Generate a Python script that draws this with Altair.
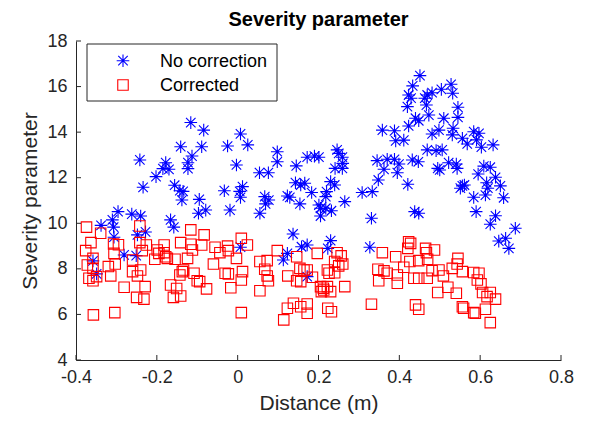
import altair as alt
import pandas as pd

# ---- data ----
nc_x = [-0.116, -0.084, 0.007, 0.025, -0.141, -0.089, -0.025, -0.113, -0.242, -0.178,
        -0.123, -0.185, -0.170, -0.123, -0.003, -0.202, -0.234, -0.156, -0.143, -0.135,
        -0.033, 0.005, 0.012, 0.007, -0.138, -0.095, -0.079, -0.097, -0.019, -0.296,
        -0.262, -0.240, -0.310, -0.166, -0.338, -0.307, -0.158, -0.306, -0.248, -0.228,
        -0.281, -0.251, -0.358, 0.007, -0.349,
        0.358, 0.098, 0.098, 0.172, 0.190, 0.201, 0.246, 0.250, 0.259, 0.260,
        0.241, 0.259, 0.345, 0.370, 0.362, 0.348, 0.054, 0.076, 0.145, 0.143,
        0.156, 0.166, 0.183, 0.230, 0.240, 0.220, 0.218, 0.308, 0.333, 0.067,
        0.077, 0.069, 0.123, 0.129, 0.154, 0.201, 0.205, 0.218, 0.232, 0.205,
        0.265, 0.055, 0.331, 0.137, 0.230, 0.172, 0.158, 0.223, 0.123, 0.113,
        0.327, 0.172,
        0.451, 0.433, 0.528, 0.504, 0.532, 0.481, 0.469, 0.463, 0.423, 0.429,
        0.420, 0.467, 0.545, 0.473, 0.545, 0.510, 0.440, 0.448, 0.423, 0.388,
        0.391, 0.411, 0.481, 0.498, 0.533, 0.531, 0.556, 0.568, 0.584, 0.597,
        0.591, 0.603, 0.632, 0.469, 0.491, 0.506, 0.388, 0.399, 0.395, 0.432,
        0.447, 0.495, 0.500, 0.522, 0.541, 0.543, 0.609, 0.625, 0.595, 0.638,
        0.616, 0.650, 0.619, 0.556, 0.561, 0.551, 0.421, 0.584, 0.613, 0.658,
        0.590, 0.638, 0.625, 0.687, 0.438, 0.448, 0.646, 0.663, 0.671]
nc_y = [14.42, 14.09, 13.92, 13.44, 13.36, 13.36, 13.39, 12.95, 12.78, 12.66,
        12.66, 12.40, 12.37, 12.40, 12.56, 12.05, 11.58, 11.67, 11.43, 11.40,
        11.43, 11.40, 11.61, 11.14, 11.02, 11.05, 10.58, 10.44, 10.58, 10.51,
        10.40, 10.32, 10.15, 10.15, 9.91, 9.83, 9.83, 9.39, 9.49, 9.62,
        8.61, 8.58, 8.35, 8.95, 7.78,
        14.09, 13.14, 12.70, 12.90, 12.95, 12.90, 13.22, 13.07, 12.90, 12.63,
        12.41, 12.41, 12.75, 12.81, 12.37, 11.90, 12.22, 12.22, 12.52, 11.78,
        11.68, 11.76, 11.35, 11.83, 11.68, 11.39, 11.17, 11.35, 11.39, 11.17,
        11.02, 10.85, 11.20, 11.14, 10.85, 10.80, 10.66, 10.66, 10.55, 10.32,
        10.95, 10.44, 10.22, 9.53, 9.24, 9.05, 8.97, 8.90, 8.68, 8.39,
        8.95, 7.66,
        16.48, 16.03, 16.10, 15.88, 15.71, 15.73, 15.63, 15.49, 15.63, 15.49,
        15.12, 15.19, 15.09, 14.75, 14.65, 14.61, 14.61, 14.50, 14.27, 14.06,
        13.62, 13.65, 13.92, 14.09, 14.17, 13.88, 13.73, 13.48, 14.02, 13.95,
        13.66, 13.34, 13.44, 13.22, 13.19, 13.22, 12.81, 12.60, 12.22, 12.78,
        12.70, 12.41, 12.34, 12.66, 12.60, 12.41, 12.51, 12.46, 12.16, 12.02,
        11.78, 11.64, 11.54, 11.64, 11.68, 11.54, 11.71, 11.14, 11.24, 11.12,
        10.51, 10.33, 9.96, 9.78, 10.51, 10.44, 9.22, 9.34, 8.90]

c_x = [-0.374, -0.339, -0.363, -0.376, -0.307, -0.295, -0.242, -0.242, -0.306, -0.358,
       -0.260, -0.303, -0.372, -0.320, -0.368, -0.358, -0.314, -0.281, -0.260, -0.240,
       -0.248, -0.229, -0.250, -0.232, -0.357, -0.304, -0.236, -0.226, -0.205, -0.199,
       -0.182, -0.178, -0.174, -0.155, -0.141, -0.116, -0.083, -0.116, -0.112, -0.089,
       -0.124, -0.137, -0.143, -0.108, -0.100, -0.094, -0.077, -0.166, -0.151, -0.141,
       -0.159, -0.060, -0.056, -0.044, -0.025, -0.023, -0.003, 0.009, -0.031, -0.023,
       0.012, 0.009, -0.017, 0.009, -0.358, -0.349, -0.195, -0.134, 0.024, 0.055,
       0.073, 0.067, 0.073, 0.076, 0.055, 0.098, 0.124, 0.146, 0.154, 0.164,
       0.172, 0.146, 0.156, 0.138, 0.123, 0.114, 0.156, 0.172, 0.172, 0.197,
       0.185, 0.205, 0.207, 0.213, 0.222, 0.222, 0.226, 0.223, 0.240, 0.212,
       0.230, 0.232, 0.246, 0.256, 0.260, 0.240, 0.250, 0.265, 0.331, 0.358,
       0.391, 0.347, 0.349, 0.362, 0.370, 0.395, 0.395, 0.411, 0.426, 0.421,
       0.428, 0.423, 0.436, 0.448, 0.469, 0.448, 0.470, 0.487, 0.465, 0.467,
       0.481, 0.498, 0.509, 0.495, 0.520, 0.541, 0.440, 0.448, 0.531, 0.545,
       0.543, 0.556, 0.584, 0.597, 0.593, 0.602, 0.606, 0.617, 0.625, 0.638,
       0.556, 0.559, 0.584, 0.588, 0.613, 0.625, -0.182]
c_y = [9.83, 9.56, 9.15, 8.80, 9.09, 9.06, 9.88, 9.15, 8.68, 8.46,
       8.39, 8.21, 8.17, 8.10, 7.59, 7.48, 7.69, 7.19, 7.88, 7.95,
       7.69, 7.22, 6.75, 6.67, 5.98, 6.08, 8.80, 9.05, 8.42, 8.83,
       8.71, 8.53, 8.46, 8.42, 9.15, 9.71, 9.49, 9.08, 8.83, 9.05,
       8.46, 7.88, 7.73, 7.81, 7.48, 7.44, 7.12, 7.29, 7.14, 6.81,
       6.75, 8.21, 8.95, 8.71, 9.00, 8.80, 8.46, 9.34, 7.81, 7.78,
       7.88, 7.51, 7.17, 6.08, 8.02, 7.66, 8.68, 7.95, 9.05, 8.32,
       8.36, 7.98, 7.69, 7.48, 7.04, 8.80, 7.69, 8.53, 8.02, 7.95,
       7.95, 7.48, 7.44, 6.49, 6.27, 5.76, 6.34, 6.46, 6.05, 8.68,
       7.63, 7.22, 7.00, 7.07, 7.22, 7.95, 7.81, 6.27, 7.83, 7.15,
       7.00, 6.12, 8.71, 8.57, 8.21, 8.32, 8.13, 7.22, 6.45, 8.71,
       8.53, 7.98, 7.48, 7.91, 7.81, 7.73, 7.37, 8.07, 8.32, 8.90,
       9.12, 9.19, 7.59, 7.59, 7.59, 8.36, 8.42, 8.83, 8.90, 8.71,
       7.92, 7.95, 7.69, 6.96, 7.19, 6.93, 6.42, 6.23, 8.02, 8.46,
       8.21, 7.88, 7.84, 7.81, 7.51, 7.34, 6.96, 6.78, 6.96, 6.67,
       6.34, 6.27, 6.08, 6.05, 6.23, 5.64, 9.05]

series_names = ["No correction", "Corrected"]
x_ticks = [-0.4, -0.2, 0, 0.2, 0.4, 0.6, 0.8]
y_ticks = [4, 6, 8, 10, 12, 14, 16, 18]

ASTERISK = "M0,-1L0,1M-1,0L1,0M-0.75,-0.75L0.75,0.75M-0.75,0.75L0.75,-0.75"
FONT = "Liberation Sans"
AX = "#262626"
W, H = 485, 319

df_nc = pd.DataFrame({"x": nc_x, "y": nc_y, "series": series_names[0]})
df_c = pd.DataFrame({"x": c_x, "y": c_y, "series": series_names[1]})

x_scale = alt.Scale(domain=[-0.4, 0.8], nice=False, zero=False)
y_scale = alt.Scale(domain=[4, 18], nice=False, zero=False)
x_axis = alt.Axis(values=x_ticks, title="Distance (m)", tickSize=0,
                  labelExpr="datum.value < 0 ? '-' + format(-datum.value, '~g') : format(datum.value, '~g')",
                  labelPadding=8, titlePadding=6, grid=False, labelFlush=False)
y_axis = alt.Axis(values=y_ticks, title="Severity parameter", tickSize=0,
                  labelPadding=9, titlePadding=6, grid=False, labelFlush=False)

color_enc = alt.Color("series:N", scale=alt.Scale(domain=series_names, range=["#0000ff", "#ff0000"]), legend=None)
shape_enc = alt.Shape("series:N", scale=alt.Scale(domain=series_names, range=[ASTERISK, "square"]), legend=None)
x_enc = alt.X("x:Q", scale=x_scale, axis=x_axis)
y_enc = alt.Y("y:Q", scale=y_scale, axis=y_axis)

blue = alt.Chart(df_nc).mark_point(filled=False, strokeWidth=1.1, opacity=1, size=160).encode(
    x=x_enc, y=y_enc, color=color_enc, shape=shape_enc)
red = alt.Chart(df_c).mark_point(filled=False, strokeWidth=1.1, opacity=1, size=110).encode(
    x=x_enc, y=y_enc, color=color_enc, shape=shape_enc)

xt = alt.Chart(pd.DataFrame({"x": x_ticks})).mark_rule(color=AX, strokeWidth=1).encode(
    x=x_enc, y=alt.value(H), y2=alt.value(H - 5))
yt = alt.Chart(pd.DataFrame({"y": y_ticks})).mark_rule(color=AX, strokeWidth=1).encode(
    y=y_enc, x=alt.value(0), x2=alt.value(5))

# ---- legend box (inside top-left, like MATLAB's 'northwest') ----
leg_box = alt.Chart(pd.DataFrame({"k": [0]})).mark_rect(
    fill="white", stroke=AX, strokeWidth=1).encode(
    x=alt.value(11), x2=alt.value(201), y=alt.value(3), y2=alt.value(60))
leg_layers = []
for i, (name, sz) in enumerate(zip(series_names, [160, 110])):
    d = pd.DataFrame({"series": [name]})
    yv = 19.7 + 24.3 * i
    leg_layers.append(alt.Chart(d).mark_point(filled=False, strokeWidth=1.1, opacity=1, size=sz).encode(
        x=alt.value(47), y=alt.value(yv), color=color_enc, shape=shape_enc))
    leg_layers.append(alt.Chart(d).mark_text(align="left", baseline="middle", font=FONT,
                                             fontSize=18, color="black").encode(
        x=alt.value(84), y=alt.value(yv + 1), text="series:N"))

chart = alt.layer(blue, red, xt, yt, leg_box, *leg_layers).properties(
    width=W, height=H,
    title=alt.TitleParams("Severity parameter", font=FONT, fontSize=20, fontWeight="bold",
                          color="black", anchor="middle", offset=2, frame="group"),
    autosize=alt.AutoSizeParams(type="none"),
    padding={"left": 76, "top": 41, "right": 39, "bottom": 63},
).configure_view(stroke=None).configure_axis(
    domainColor=AX, domainWidth=1, labelColor=AX, titleColor=AX,
    labelFont=FONT, titleFont=FONT, labelFontSize=18, titleFontSize=21,
    titleFontWeight="normal",
)

chart.save("out.html", embed_options={"renderer": "svg", "actions": False})
